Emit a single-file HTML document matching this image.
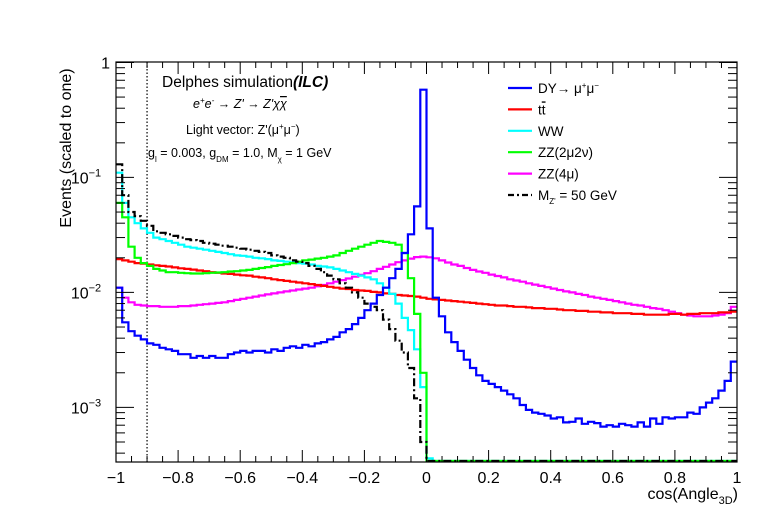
<!DOCTYPE html>
<html><head><meta charset="utf-8"><style>
body{margin:0;background:#fff}
svg{display:block;font-family:"Liberation Sans",sans-serif}
</style></head><body>
<svg id="chart" width="774" height="513" viewBox="0 0 774 513" xmlns="http://www.w3.org/2000/svg">
<rect width="774" height="513" fill="#fff"/>
<g id="marks"></g>
<g id="axes"></g>
<g fill="#000">
<text x="162" y="87" font-size="15.5">Delphes simulation<tspan font-weight="bold" font-style="italic">(ILC)</tspan></text>
<text x="193" y="108" font-size="12.5" font-style="italic">e<tspan dy="-5" font-size="8">+</tspan><tspan dy="5">e</tspan><tspan dy="-5" font-size="8">-</tspan><tspan dy="5"> → Z' → Z'χ</tspan><tspan text-decoration="overline">χ</tspan></text>
<text x="186" y="134" font-size="12.5">Light vector: Z'(μ<tspan dy="-5" font-size="8">+</tspan><tspan dy="5">μ</tspan><tspan dy="-5" font-size="8">−</tspan><tspan dy="5">)</tspan></text>
<text x="148" y="157" font-size="12.5">g<tspan dy="5" font-size="8">l</tspan><tspan dy="-5"> = 0.003, g</tspan><tspan dy="5" font-size="8">DM</tspan><tspan dy="-5"> = 1.0, M</tspan><tspan dy="5" font-size="8">χ</tspan><tspan dy="-5">  = 1 GeV</tspan></text>
</g>
<g id="legend" font-size="13.5"></g>
<text transform="translate(71,148) rotate(-90)" text-anchor="middle" font-size="16">Events (scaled to one)</text>
<text x="738" y="499" text-anchor="end" font-size="16">cos(Angle<tspan dy="5" font-size="11">3D</tspan><tspan dy="-5">)</tspan></text>
</svg>
<script>
const binEdgesStart = -1, binWidth = 0.02;
const dyValues = [0.011,0.0055,0.0046,0.0042,0.0039,0.0036,0.0035,0.0033,0.0032,0.0031,
0.0029,0.0029,0.0027,0.0028,0.0027,0.0028,0.0027,0.0027,0.0029,0.003,
0.0031,0.003,0.0031,0.0031,0.003,0.0032,0.0031,0.0033,0.0034,0.0033,
0.0035,0.0034,0.0036,0.0037,0.0039,0.0041,0.0045,0.0048,0.0053,0.006,
0.007,0.008,0.0095,0.011,0.0133,0.016,0.022,0.032,0.056,0.58,
0.036,0.009,0.0062,0.0045,0.0037,0.0031,0.0026,0.0022,0.0019,0.0017,
0.0016,0.0015,0.0014,0.0013,0.0012,0.00105,0.00095,0.0009,0.00088,0.00085,
0.0008,0.00082,0.00074,0.00075,0.0008,0.00072,0.00075,0.00073,0.00068,0.0007,
0.00068,0.00072,0.0007,0.00068,0.00074,0.00068,0.0008,0.00072,0.00082,0.0008,
0.00082,0.00082,0.0009,0.00088,0.001,0.0011,0.0012,0.0014,0.0017,0.0025];
const ttValues = [.0195,.019,.0185,.018,.0178,.0175,.0172,.017,.0168,.0165,
.0162,.016,.0158,.0155,.0153,.015,.0148,.0146,.0145,.0143,
.0141,.014,.0137,.0135,.0133,.013,.0128,.0126,.0124,.0122,
.012,.0118,.0116,.0114,.0112,.011,.0108,.0107,.0105,.0104,
.0103,.0101,.01,.0098,.0097,.0095,.0094,.0093,.0092,.009,
.0088,.0087,.0086,.0085,.0084,.0083,.0082,.0081,.008,.0079,
.0078,.0077,.0077,.0076,.0075,.0075,.0074,.0073,.0073,.0072,
.0072,.0071,.007,.007,.0069,.0069,.0068,.0068,.0067,.0067,
.0066,.0066,.0066,.0065,.0065,.0064,.0064,.0064,.0064,.0065,
.0065,.0064,.0065,.0065,.0066,.0066,.0066,.0067,.0067,.0068];
const wwValues = [.11,.06,.045,.04,.036,.033,.03,.029,.028,.027,
.026,.025,.0245,.024,.0235,.023,.0225,.022,.0215,.021,
.0208,.0205,.02,.0198,.0195,.019,.0188,.0185,.0182,.018,
.0178,.0175,.017,.0168,.0165,.016,.0155,.015,.0145,.014,
.0135,.013,.012,.011,.0097,.008,.006,.0047,.0032,.0015,
.00036,0,0,0,0,0,0,0,0,0,0,0,0,0,0,0,0,0,0,0,0,0,0,0,0,0,0,0,0,0,
0,0,0,0,0,0,0,0,0,0,0,0,0,0,0,0,0,0,0,0];
const zz2mu2nuValues = [.06,.045,.025,.02,.018,.017,.016,.0155,.015,.015,
.0148,.0147,.0146,.0146,.0147,.0148,.0149,.015,.0152,.0153,
.0155,.0157,.016,.0163,.0166,.017,.0173,.0176,.018,.0185,
.019,.0193,.0197,.02,.0205,.021,.022,.023,.024,.025,
.026,.027,.028,.0275,.027,.026,.022,.0133,.0065,.002,
0,0,0,0,0,0,0,0,0,0,0,0,0,0,0,0,0,0,0,0,0,0,0,0,0,
0,0,0,0,0,0,0,0,0,0,0,0,0,0,0,0,0,0,0,0,0,0,0,0,0];
const zz4muValues = [.011,.009,.0082,.0078,.0077,.0076,.0076,.0075,.0075,.0075,
.0076,.0076,.0077,.0078,.0079,.008,.0081,.0082,.0084,.0086,
.0088,.009,.0092,.0094,.0096,.0098,.01,.0102,.0104,.0106,
.0108,.011,.0113,.0116,.012,.0124,.0128,.0132,.0137,.0142,
.0147,.0153,.016,.0167,.0175,.0183,.019,.0197,.0203,.0205,
.0202,.0198,.019,.0182,.0175,.017,.0163,.0157,.0152,.0148,
.0143,.0139,.0135,.013,.0127,.0124,.012,.0117,.0114,.0111,
.0108,.0105,.0102,.01,.0097,.0095,.0092,.009,.0088,.0086,
.0084,.0082,.008,.0078,.0077,.0075,.0073,.0072,.007,.0068,
.0066,.0064,.0063,.0062,.0062,.0062,.0063,.0064,.0066,.0075];
const signalValues = [.13,.07,.05,.046,.042,.038,.034,.033,.032,.031,
.03,.029,.0285,.028,.027,.0265,.026,.0255,.025,.0245,
.024,.0235,.023,.0225,.022,.021,.0205,.02,.019,.0185,
.018,.017,.016,.015,.014,.013,.012,.011,.01,.009,
.008,.0075,.007,.0058,.0048,.0038,.003,.0022,.0012,.0005,
0,0,0,0,0,0,0,0,0,0,0,0,0,0,0,0,0,0,0,0,0,0,0,0,0,
0,0,0,0,0,0,0,0,0,0,0,0,0,0,0,0,0,0,0,0,0,0,0,0,0];
const xTickLabels = ["−1","−0.8","−0.6","−0.4","−0.2","0","0.2","0.4","0.6","0.8","1"];
const xTickValues = [-1,-0.8,-0.6,-0.4,-0.2,0,0.2,0.4,0.6,0.8,1];
const yDecades = [0,-1,-2,-3];
const yDecadeLabels = ["1","10","10","10"];
const yDecadeExps = ["","−1","−2","−3"];
const legendLabels = ["DY","tt","WW","ZZ(2μ2ν)","ZZ(4μ)","M"];

const L=116,R=737,T=62,B=462, YMAX=0.004, YMIN=-3.475;
const NS="http://www.w3.org/2000/svg";
function xs(v){return L+(v+1)/2*(R-L);}
function ys(v){ if(v<=0) return B; const l=Math.log10(v); return T+(YMAX-l)/(YMAX-YMIN)*(B-T);}
function mk(tag,attrs,parent){const e=document.createElementNS(NS,tag);for(const k in attrs)e.setAttribute(k,attrs[k]);parent.appendChild(e);return e;}
const marks=document.getElementById('marks'), axes=document.getElementById('axes'), leg=document.getElementById('legend');

const clip=mk('clipPath',{id:'pc'},marks);
mk('rect',{x:L,y:T,width:R-L,height:B-T},clip);

const dotted=mk('line',{x1:xs(-0.9),x2:xs(-0.9),y1:T,y2:B,stroke:'#000','stroke-width':1.2,'stroke-dasharray':'1.5,2'},marks);



const series=[
 {name:'series-zz4mu',vals:zz4muValues,color:'#ff00ff',dash:null},
 {name:'series-tt',vals:ttValues,color:'#ff0000',dash:null},
 {name:'series-ww',vals:wwValues,color:'#00ffff',dash:null},
 {name:'series-zz2mu2nu',vals:zz2mu2nuValues,color:'#00ff00',dash:null},
 {name:'series-signal',vals:signalValues,color:'#000',dash:'8,3,2,3'},
 {name:'series-dy',vals:dyValues,color:'#0000ff',dash:null}
];
series.forEach(s=>{
  let d='';
  s.vals.forEach((v,i)=>{
    const x0=xs(binEdgesStart+i*binWidth), x1=xs(binEdgesStart+(i+1)*binWidth), y=Math.min(ys(v),B-1);
    d+=(i===0?'M':'L')+x0.toFixed(1)+','+y.toFixed(1)+'L'+x1.toFixed(1)+','+y.toFixed(1);
  });
  const p=mk('path',{d:d,fill:'none',stroke:s.color,'stroke-width':2.2,'clip-path':'url(#pc)'},marks);
  if(s.dash)p.setAttribute('stroke-dasharray',s.dash);
  
  
});

const frame=mk('rect',{x:L,y:T,width:R-L,height:B-T,fill:'none',stroke:'#000','stroke-width':1.2},axes);


for(let k=0;k<=40;k++){
  const v=-1+k*0.05, x=xs(v), major=(k%4===0), len=major?12:6;
  mk('line',{x1:x,x2:x,y1:B,y2:B-len,stroke:'#000','stroke-width':1},axes);
  mk('line',{x1:x,x2:x,y1:T,y2:T+len,stroke:'#000','stroke-width':1},axes);
}
xTickValues.forEach((v,i)=>{
  const t=mk('text',{x:xs(v),y:B+21,'text-anchor':'middle','font-size':16},axes);
  t.textContent=xTickLabels[i];
  
  
});
for(let dec=-4;dec<=0;dec++){
  for(let m=1;m<=9;m++){
    const v=m*Math.pow(10,dec); const y=ys(v);
    if(y<T-0.5||y>B+0.5)continue;
    const len=m===1?18:9;
    mk('line',{x1:L,x2:L+len,y1:y,y2:y,stroke:'#000','stroke-width':1},axes);
    mk('line',{x1:R,x2:R-len,y1:y,y2:y,stroke:'#000','stroke-width':1},axes);
  }
}
yDecades.forEach((d,i)=>{
  const y=ys(Math.pow(10,d));
  const t=mk('text',{x:yDecadeExps[i]?86:110,y:y+6,'text-anchor':yDecadeExps[i]?'middle':'end','font-size':16},axes);
  t.textContent=yDecadeLabels[i];
  if(yDecadeExps[i]){const ts=mk('tspan',{dy:-7,'font-size':11},t);ts.textContent=yDecadeExps[i];}
  
  
});

const legColors=['#0000ff','#ff0000','#00ffff','#00ff00','#ff00ff','#000'];
legendLabels.forEach((lab,i)=>{
  const y=88+i*21.4;
  const ln=mk('line',{x1:508,x2:532,y1:y,y2:y,stroke:legColors[i],'stroke-width':2.2},leg);
  if(i===5)ln.setAttribute('stroke-dasharray','6,3,2,3');
  const t=mk('text',{x:538,y:y+5},leg);
  t.textContent=lab;
  if(i===0){const a=mk('tspan',{},t);a.textContent='→ μ';const b=mk('tspan',{dy:-5,'font-size':8},t);b.textContent='+';const c=mk('tspan',{dy:5},t);c.textContent='μ';const e=mk('tspan',{dy:-5,'font-size':8},t);e.textContent='−';}
  if(i===1){t.textContent='t';const b=mk('tspan',{'text-decoration':'overline'},t);b.textContent='t';}
  if(i===5){const b=mk('tspan',{dy:4,'font-size':8},t);b.textContent="Z'";const c=mk('tspan',{dy:-4},t);c.textContent=' = 50 GeV';}
  
  
});
</script>
</body></html>
